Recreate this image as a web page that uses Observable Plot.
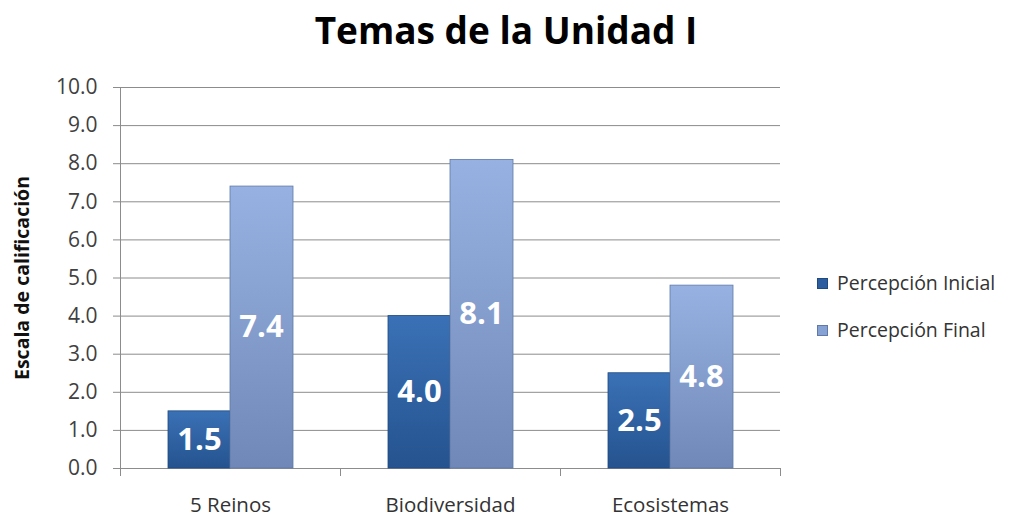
<!DOCTYPE html>
<html>
<head>
<meta charset="utf-8">
<script src="https://cdn.jsdelivr.net/npm/d3@7"></script>
<script src="https://cdn.jsdelivr.net/npm/@observablehq/plot@0.6"></script>
<style>
  html, body { margin: 0; padding: 0; background: #fff; }
  #wrap { position: relative; width: 1018px; height: 518px; font-family: "Open Sans", Lato, sans-serif; overflow: hidden; }
  #title { position: absolute; left: 0; top: 0px; width: 1012px; text-align: center; font-size: 37px; line-height: 60px; font-weight: bold; color: #000; }
  .li { position: absolute; left: 817px; display: flex; align-items: center; height: 22px; line-height: 22px; font-size: 19.5px; color: #333; white-space: nowrap; }
  .sw { width: 11px; height: 11px; margin-right: 9px; box-sizing: border-box; }
  #chart { position: absolute; left: 0; top: 0; }
</style>
</head>
<body>
<div id="wrap">
  <div id="chart"></div>
  <div id="title">Temas de la Unidad I</div>
</div>
<script>
const categories = ["5 Reinos", "Biodiversidad", "Ecosistemas"];
const inicial = [1.5, 4.0, 2.5];
const final = [7.4, 8.1, 4.8];
const seriesNames = ["Percepción Inicial", "Percepción Final"];
const yTicks = [0, 1, 2, 3, 4, 5, 6, 7, 8, 9, 10];

const data = categories.map((c, i) => ({cat: c, ini: inicial[i], fin: final[i]}));

const W = 1018, H = 518, mL = 120, mR = 238, mT = 87, mB = 50;
const band = (W - mL - mR) / categories.length;
const font = "'Open Sans', Lato, sans-serif";

const chart = Plot.plot({
  width: W, height: H,
  marginLeft: mL, marginRight: mR, marginTop: mT, marginBottom: mB,
  style: {fontFamily: font, background: "#fff"},
  x: {domain: categories, padding: 0, label: null},
  y: {domain: [0, 10], label: null},
  marks: [
    Plot.gridY(yTicks, {stroke: "#8c8c8c", strokeOpacity: 1, strokeWidth: 1}),
    Plot.frame({anchor: "left", stroke: "#8c8c8c"}),
    Plot.ruleY([0], {stroke: "#8c8c8c"}),
    Plot.axisY(yTicks, {tickSize: 7, tickPadding: 16, tickFormat: d3.format(".1f"), fontSize: 21, fill: "#404040", stroke: "#8c8c8c", label: null}),
    Plot.axisX({tickSize: 0, tickPadding: 29, fontSize: 20.5, fill: "#333", label: null}),
    Plot.ruleX(categories, {x: d => d, y1: 0, y2: 0, dx: -band / 2, insetBottom: -8, stroke: "#8c8c8c"}),
    Plot.ruleX(categories.slice(-1), {x: d => d, y1: 0, y2: 0, dx: band / 2, insetBottom: -8, stroke: "#8c8c8c"}),
    Plot.barY(data, {x: "cat", y: "ini", insetLeft: 48, insetRight: band / 2, fill: "url(#gIni)", stroke: "#1f4a80", strokeWidth: 0.8}),
    Plot.barY(data, {x: "cat", y: "fin", insetLeft: band / 2, insetRight: 47, fill: "url(#gFin)", stroke: "#6079a8", strokeWidth: 0.8}),
    Plot.text(data, {x: "cat", y: d => d.ini / 2, text: d => d3.format(".1f")(d.ini), dx: -31, fill: "#fff", fontSize: 31, fontWeight: "bold"}),
    Plot.text(data, {x: "cat", y: d => d.fin / 2, text: d => d3.format(".1f")(d.fin), dx: 31, fill: "#fff", fontSize: 31, fontWeight: "bold"}),
    Plot.text(["Escala de calificación"], {frameAnchor: "left", textAnchor: "middle", lineAnchor: "middle", rotate: -90, dx: -98, fontSize: 19.5, fontWeight: "bold", fill: "#111"})
  ]
});

chart.insertAdjacentHTML("afterbegin", `<defs>
  <linearGradient id="gIni" x1="0" y1="0" x2="0" y2="1">
    <stop offset="0" stop-color="#3a71b6"/>
    <stop offset="1" stop-color="#25538f"/>
  </linearGradient>
  <linearGradient id="gFin" x1="0" y1="0" x2="0" y2="1">
    <stop offset="0" stop-color="#97b2e2"/>
    <stop offset="1" stop-color="#7088b8"/>
  </linearGradient>
</defs>`);

document.getElementById("chart").appendChild(chart);

const wrap = document.getElementById("wrap");
const legendColors = ["#2c5e9f", "#86a1d3"];
seriesNames.forEach((name, i) => {
  const row = document.createElement("div");
  row.className = "li";
  row.style.top = (272 + 47 * i) + "px";
  row.innerHTML = `<span class="sw" style="background:${legendColors[i]};border:1px solid ${i ? '#6079a8' : '#1f4a80'}"></span><span>${name}</span>`;
  wrap.appendChild(row);
});
</script>
</body>
</html>
